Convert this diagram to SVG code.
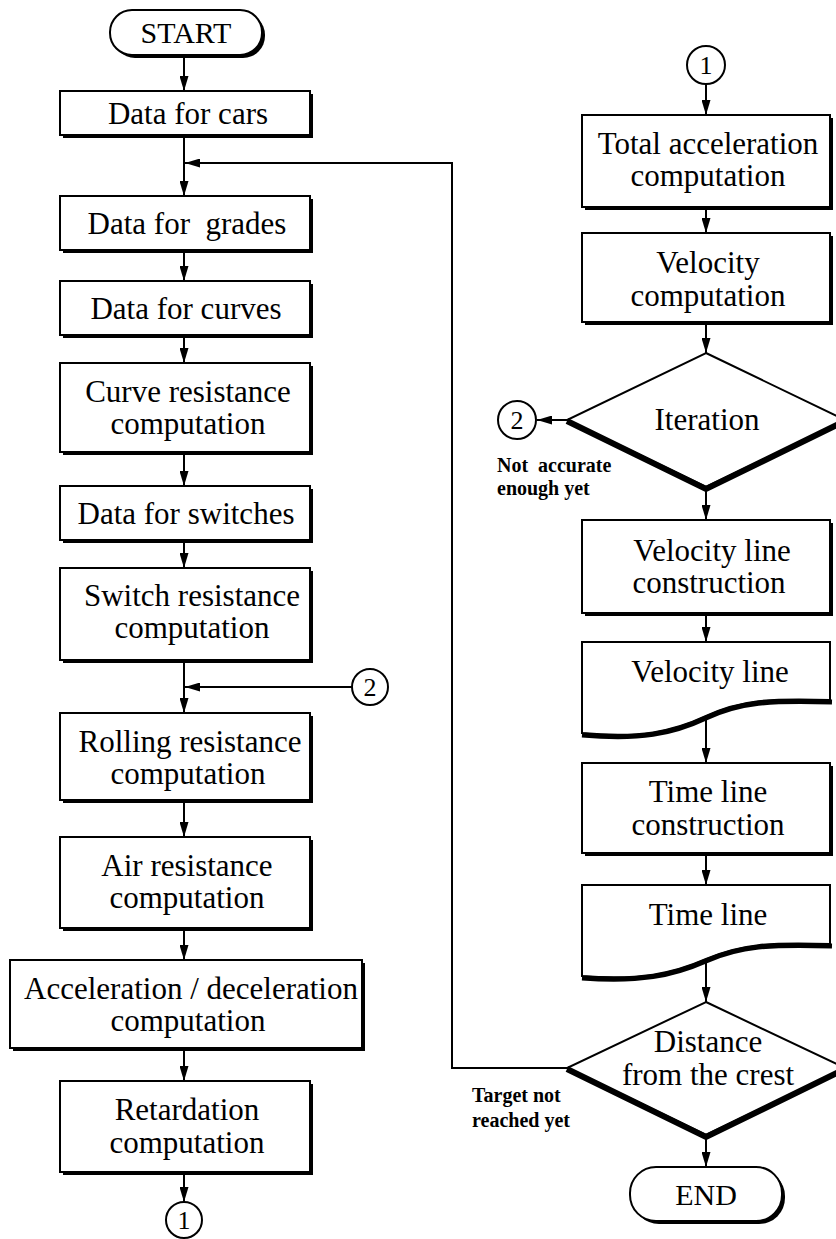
<svg xmlns="http://www.w3.org/2000/svg" width="836" height="1239" viewBox="0 0 836 1239">
<style>
.box{fill:#fff;stroke:#000;stroke-width:2}
.sh{fill:#000}
.t{font-family:"Liberation Serif","Times New Roman",serif;font-size:31px;text-anchor:middle;fill:#000}
.s{font-family:"Liberation Serif","Times New Roman",serif;font-size:20px;font-weight:bold;fill:#000}
.c{font-family:"Liberation Serif","Times New Roman",serif;font-size:26px;text-anchor:middle;fill:#000}
.conn{fill:none;stroke:#000;stroke-width:2}
.thick{fill:none;stroke:#000;stroke-width:6;stroke-linejoin:miter}
.circ{fill:#fff;stroke:#000;stroke-width:2}
</style>
<defs>
<marker id="ah" viewBox="0 0 15 9" refX="15" refY="4.5" markerWidth="15" markerHeight="9" orient="auto" markerUnits="userSpaceOnUse"><path d="M0,0 L15,4.5 L0,9 z" fill="#000"/></marker>
</defs>

<g id="connectors">
<path class="conn" marker-end="url(#ah)" d="M184,55 V91"/>
<path class="conn" marker-end="url(#ah)" d="M184,137 V196"/>
<path class="conn" marker-end="url(#ah)" d="M567,1068 H452 V163 H185"/>
<path class="conn" marker-end="url(#ah)" d="M184,252 V281"/>
<path class="conn" marker-end="url(#ah)" d="M184,337 V363"/>
<path class="conn" marker-end="url(#ah)" d="M184,454 V486"/>
<path class="conn" marker-end="url(#ah)" d="M184,542 V568"/>
<path class="conn" marker-end="url(#ah)" d="M184,662 V713"/>
<path class="conn" marker-end="url(#ah)" d="M352,687 H185"/>
<path class="conn" marker-end="url(#ah)" d="M184,802 V837"/>
<path class="conn" marker-end="url(#ah)" d="M184,931 V960"/>
<path class="conn" marker-end="url(#ah)" d="M184,1050 V1081"/>
<path class="conn" marker-end="url(#ah)" d="M184,1174 V1202"/>
<path class="conn" marker-end="url(#ah)" d="M706,84 V115"/>
<path class="conn" marker-end="url(#ah)" d="M706,209 V233"/>
<path class="conn" marker-end="url(#ah)" d="M706,324 V353"/>
<path class="conn" marker-end="url(#ah)" d="M567,420 H537"/>
<path class="conn" marker-end="url(#ah)" d="M706,490 V520"/>
<path class="conn" marker-end="url(#ah)" d="M706,615 V642"/>
<path class="conn" marker-end="url(#ah)" d="M706,718 V763"/>
<path class="conn" marker-end="url(#ah)" d="M706,855 V885"/>
<path class="conn" marker-end="url(#ah)" d="M706,961 V1002"/>
<path class="conn" marker-end="url(#ah)" d="M706,1138 V1167"/>
</g>

<g id="start">
<rect class="sh" x="113" y="13" width="152" height="45" rx="22"/>
<rect class="box" x="110" y="10" width="152" height="45" rx="22"/>
<text class="t" x="186" y="43" style="font-size:30px">START</text>
</g>

<g id="data-cars">
<rect class="sh" x="63" y="94" width="250" height="44"/>
<rect class="box" x="60" y="91" width="250" height="44"/>
<text class="t" x="188" y="124">Data for cars</text>
</g>

<g id="data-grades">
<rect class="sh" x="63" y="199" width="250" height="54"/>
<rect class="box" x="60" y="196" width="250" height="54"/>
<text class="t" x="187" y="234" xml:space="preserve">Data for  grades</text>
</g>

<g id="data-curves">
<rect class="sh" x="63" y="284" width="250" height="54"/>
<rect class="box" x="60" y="281" width="250" height="54"/>
<text class="t" x="186" y="319">Data for curves</text>
</g>

<g id="curve-res">
<rect class="sh" x="63" y="366" width="250" height="89"/>
<rect class="box" x="60" y="363" width="250" height="89"/>
<text class="t" x="188" y="402">Curve resistance</text>
<text class="t" x="188" y="434">computation</text>
</g>

<g id="data-switches">
<rect class="sh" x="63" y="489" width="250" height="54"/>
<rect class="box" x="60" y="486" width="250" height="54"/>
<text class="t" x="186" y="524">Data for switches</text>
</g>

<g id="switch-res">
<rect class="sh" x="63" y="571" width="250" height="92"/>
<rect class="box" x="60" y="568" width="250" height="92"/>
<text class="t" x="192" y="606">Switch resistance</text>
<text class="t" x="192" y="638">computation</text>
</g>

<g id="rolling-res">
<rect class="sh" x="63" y="716" width="250" height="87"/>
<rect class="box" x="60" y="713" width="250" height="87"/>
<text class="t" x="190" y="752">Rolling resistance</text>
<text class="t" x="188" y="784">computation</text>
</g>

<g id="air-res">
<rect class="sh" x="63" y="840" width="250" height="91"/>
<rect class="box" x="60" y="837" width="250" height="91"/>
<text class="t" x="187" y="876">Air resistance</text>
<text class="t" x="187" y="908">computation</text>
</g>

<g id="accel">
<rect class="sh" x="13" y="963" width="352" height="88"/>
<rect class="box" x="10" y="960" width="352" height="88"/>
<text class="t" x="191" y="999">Acceleration / deceleration</text>
<text class="t" x="188" y="1031">computation</text>
</g>

<g id="retard">
<rect class="sh" x="63" y="1084" width="250" height="91"/>
<rect class="box" x="60" y="1081" width="250" height="91"/>
<text class="t" x="187" y="1120">Retardation</text>
<text class="t" x="187" y="1153">computation</text>
</g>

<g id="conn1-out">
<circle class="circ" cx="184" cy="1220" r="18"/>
<text class="c" x="184" y="1229">1</text>
</g>

<g id="conn2-in">
<circle class="circ" cx="370" cy="687" r="18"/>
<text class="c" x="370" y="696">2</text>
</g>

<g id="conn1-in">
<circle class="circ" cx="706" cy="65" r="19"/>
<text class="c" x="706" y="74">1</text>
</g>

<g id="total-accel">
<rect class="sh" x="585" y="118" width="248" height="92"/>
<rect class="box" x="582" y="115" width="248" height="92"/>
<text class="t" x="708" y="154">Total acceleration</text>
<text class="t" x="708" y="186">computation</text>
</g>

<g id="velocity">
<rect class="sh" x="585" y="236" width="248" height="89"/>
<rect class="box" x="582" y="233" width="248" height="89"/>
<text class="t" x="708" y="273">Velocity</text>
<text class="t" x="708" y="306">computation</text>
</g>

<g id="iteration">
<polygon class="box" points="706,353 845,420 706,487 567,420"/>
<polyline class="thick" points="567,421 706,489 845,421"/>
<text class="t" x="707" y="430">Iteration</text>
</g>

<g id="conn2-out">
<circle class="circ" cx="517" cy="420" r="19"/>
<text class="c" x="517" y="429">2</text>
</g>
<text class="s" x="497" y="472" xml:space="preserve">Not  accurate</text>
<text class="s" x="497" y="495">enough yet</text>

<g id="vl-construct">
<rect class="sh" x="585" y="523" width="248" height="93"/>
<rect class="box" x="582" y="520" width="248" height="93"/>
<text class="t" x="712" y="561">Velocity line</text>
<text class="t" x="709" y="593">construction</text>
</g>

<g id="vl-doc">
<path class="box" d="M582,642 H830 V700 C770,698 740,700 706,716 C672,732 640,738 582,733 Z"/>
<path class="thick" style="stroke-width:5" d="M582,735 C640,740 672,734 706,718 C740,702 770,700 832,702"/>
<text class="t" x="710" y="682">Velocity line</text>
</g>

<g id="tl-construct">
<rect class="sh" x="585" y="766" width="248" height="90"/>
<rect class="box" x="582" y="763" width="248" height="90"/>
<text class="t" x="708" y="802">Time line</text>
<text class="t" x="708" y="835">construction</text>
</g>

<g id="tl-doc">
<path class="box" d="M582,885 H830 V944 C770,942 740,944 706,959 C672,974 640,980 582,976 Z"/>
<path class="thick" style="stroke-width:5" d="M582,978 C640,982 672,976 706,961 C740,946 770,944 832,946"/>
<text class="t" x="708" y="925">Time line</text>
</g>

<g id="distance">
<polygon class="box" points="706,1002 845,1068 706,1135 567,1068"/>
<polyline class="thick" points="567,1069 706,1137 845,1069"/>
<text class="t" x="708" y="1052">Distance</text>
<text class="t" x="708" y="1085">from the crest</text>
</g>
<text class="s" x="472" y="1102">Target not</text>
<text class="s" x="472" y="1127">reached yet</text>

<g id="end">
<rect class="sh" x="633" y="1170" width="152" height="54" rx="26"/>
<rect class="box" x="630" y="1167" width="152" height="54" rx="26"/>
<text class="t" x="706" y="1205" style="font-size:30px">END</text>
</g>
</svg>
